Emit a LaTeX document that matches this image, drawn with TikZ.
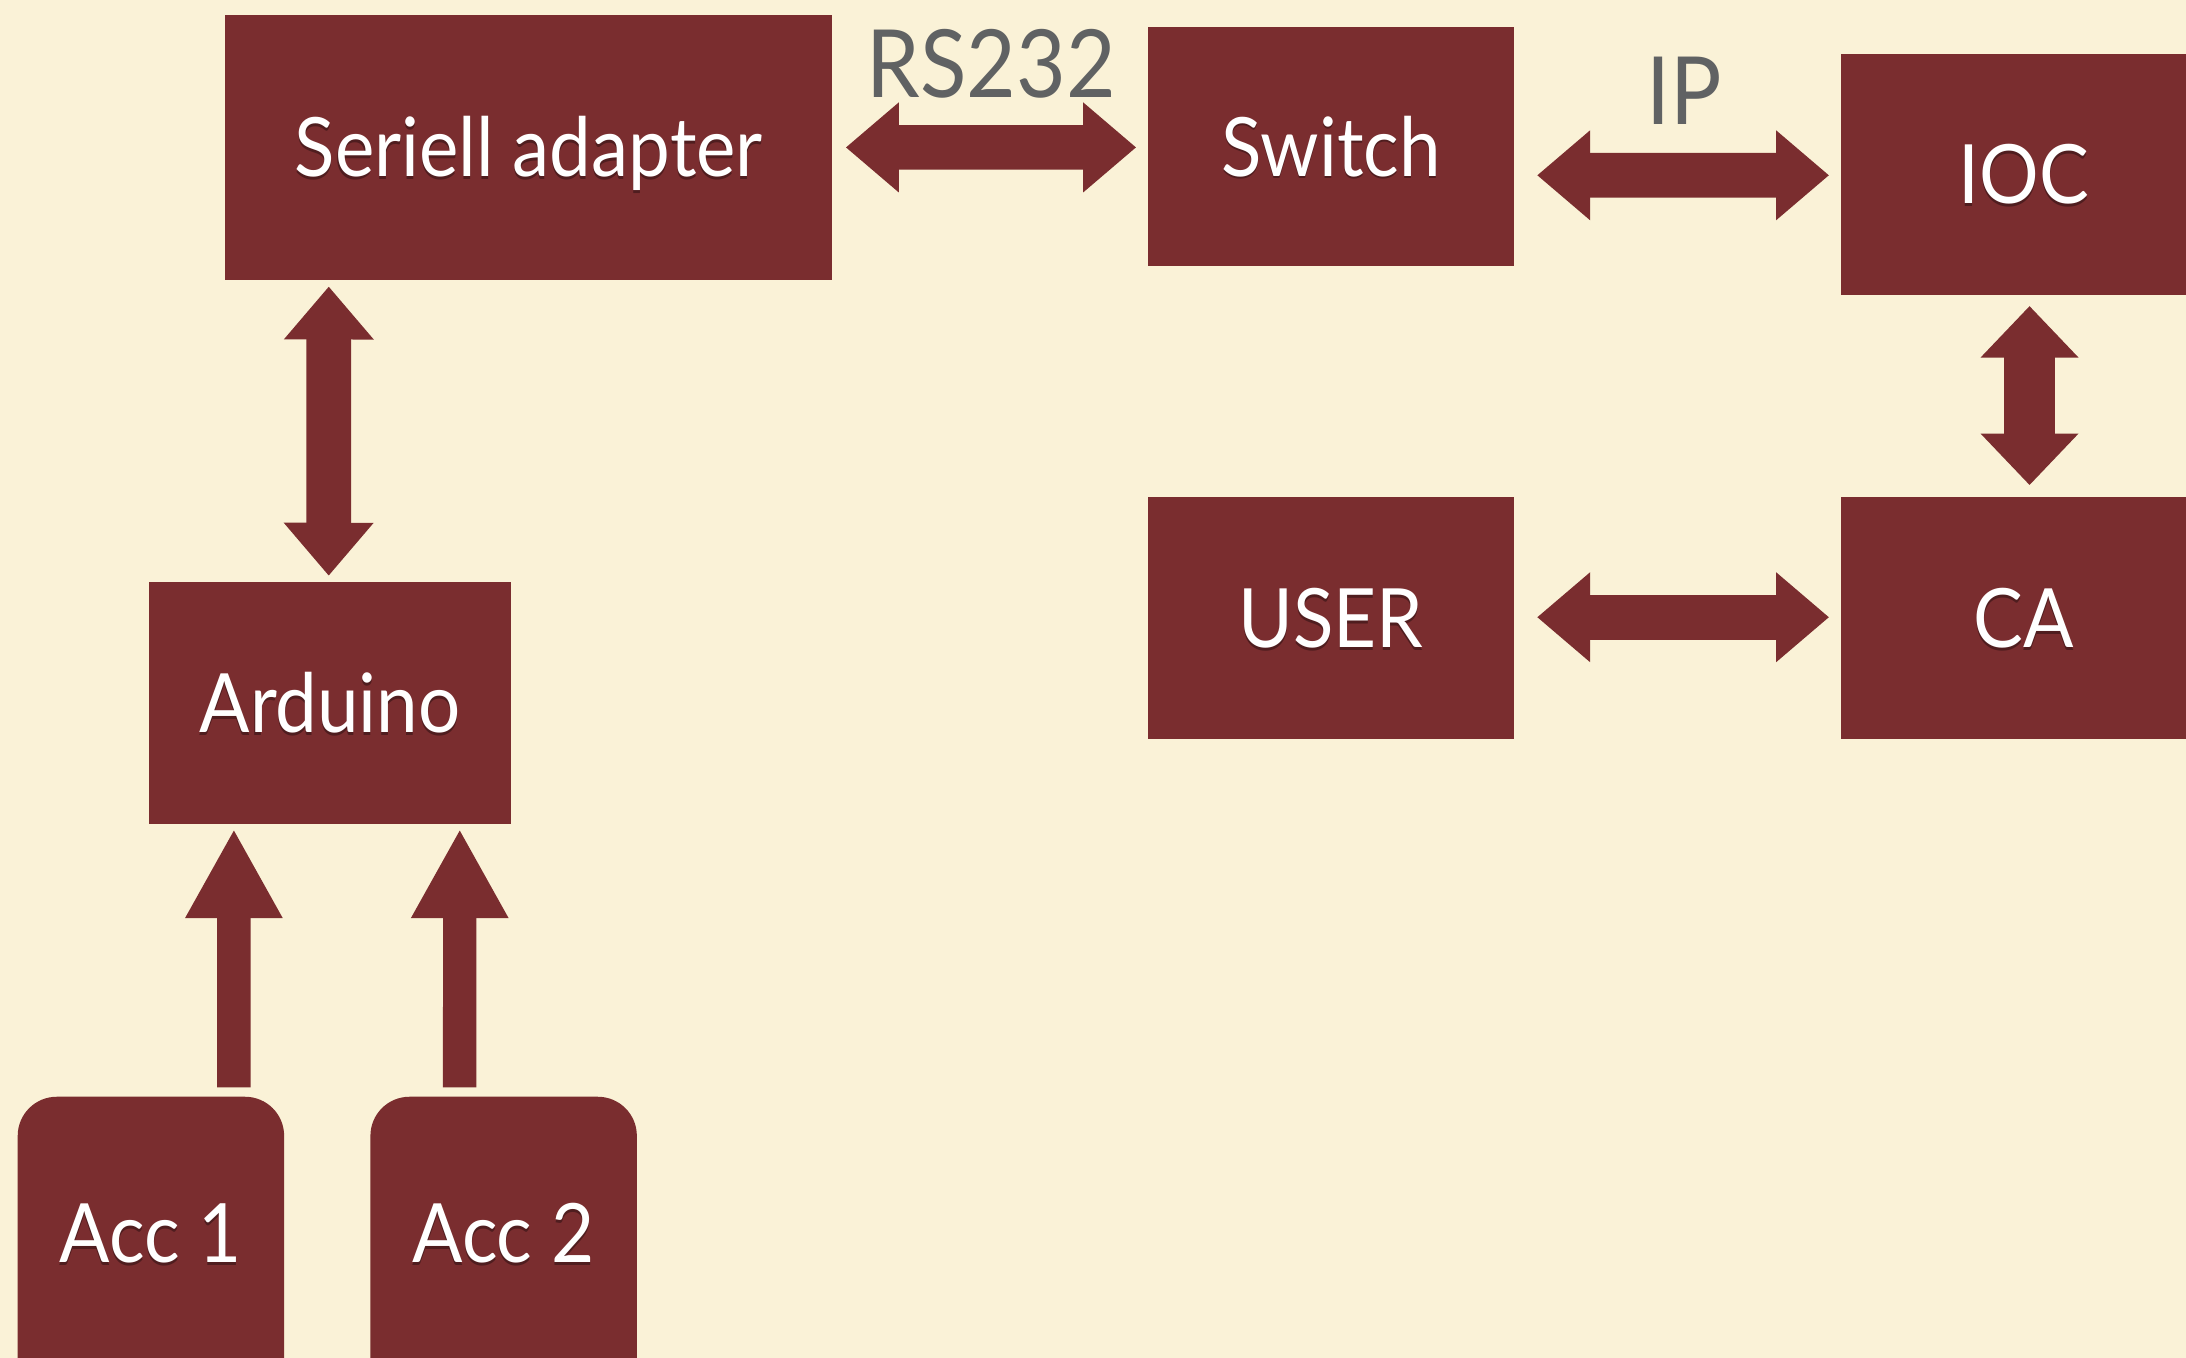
\documentclass[tikz,border=0pt]{standalone}
\usepackage{fontspec}
\setmainfont{Lato}[FakeStretch=0.91]
\usetikzlibrary{arrows.meta,calc}
\definecolor{paper}{HTML}{FAF2D7}
\definecolor{maroon}{HTML}{7A2D2F}
\definecolor{labelgray}{HTML}{606263}
\newcommand\shtxt[1]{\makebox[0pt][l]{\raisebox{-0.6pt}{\textcolor{maroon!65!black}{#1}}}#1}
\tikzset{
  blk/.style={fill=maroon, draw=none, text=white, inner sep=0pt, anchor=north west,
    font=\fontsize{16.7}{18}\selectfont, text height=11.95pt, text depth=0pt},
  accblk/.style={blk, rounded corners=0.28cm},
  lbl/.style={text=labelgray, inner sep=0pt, font=\fontsize{19.2}{22}\selectfont,
    text height=13.7pt, text depth=0pt},
  fatboth/.style={maroon, line width=32*0.2845pt,
    {Triangle[length=38*0.2845pt, width=62*0.2845pt]}-{Triangle[length=38*0.2845pt, width=62*0.2845pt]}},
  fatup/.style={maroon, line width=24*0.2845pt,
    -{Triangle[length=64*0.2845pt, width=65*0.2845pt]}},
}
\begin{document}
\begin{tikzpicture}[x=0.01cm,y=-0.01cm]
\fill[paper] (0,0) rectangle (1568,974);
\path[use as bounding box, clip] (0,0) rectangle (1568,974);
% boxes
\node[blk, minimum width=4.35cm, minimum height=1.90cm, text depth=-4pt] (sa) at (161,10) {\shtxt{Seriell adapter}};
\node[blk, minimum width=2.62cm, minimum height=1.71cm, text depth=-4pt] (sw) at (823,19) {\shtxt{Switch}};
\node[blk, minimum width=2.62cm, minimum height=1.73cm, text depth=-2pt] (ioc) at (1320,38) {\shtxt{IOC}};
\node[blk, minimum width=2.62cm, minimum height=1.73cm, text depth=-3pt] (user) at (823,356) {\shtxt{USER}};
\node[blk, minimum width=2.62cm, minimum height=1.73cm, text depth=-3pt] (ca) at (1320,356) {\shtxt{CA}};
\node[blk, minimum width=2.60cm, minimum height=1.73cm] (ard) at (106,417) {\shtxt{Arduino}};
\node[accblk, minimum width=1.91cm, minimum height=2.20cm, text depth=0.24cm] (acc1) at (12,786) {\shtxt{Acc 1}};
\node[accblk, minimum width=1.91cm, minimum height=2.20cm, text depth=0.24cm] (acc2) at (265,786) {\shtxt{Acc 2}};
% labels
\node[lbl] (rs) at (711,46) {RS232};
\node[lbl] (ip) at (1208,65) {IP};
% connectors
\draw[fatboth] ($(sa.east)+(9,0)$) -- ($(sw.west)+(-8,0.5)$);
\draw[fatboth] ($(sw.east)+(16,20.5)$) -- ($(ioc.west)+(-8,0.5)$);
\draw[fatboth] ($(user.east)+(16,-0.5)$) -- ($(ca.west)+(-8,-0.5)$);
\draw[fatboth, line width=36*0.2845pt,
  {Triangle[length=37*0.2845pt, width=68*0.2845pt]}-{Triangle[length=37*0.2845pt, width=68*0.2845pt]}]
  ($(ioc.south)+(4,7)$) -- ($(ca.north)+(4,-8)$);
\draw[fatboth] ($(sa.south)+(-143.5,4)$) -- ($(ard.north)+(-1,-4)$);
\draw[fatup] ($(acc1.north)+(59.5,-6)$) -- ($(ard.south)+(-69,3)$);
\draw[fatup] ($(acc2.north)+(-31.5,-6)$) -- ($(ard.south)+(93,3)$);
\end{tikzpicture}
\end{document}
